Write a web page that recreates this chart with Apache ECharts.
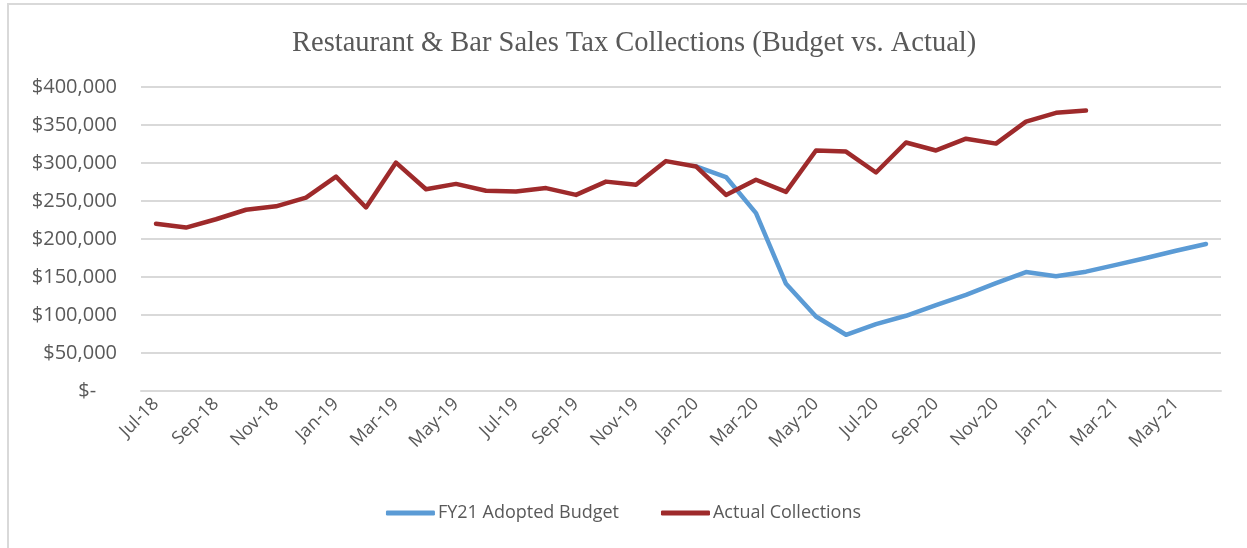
<!DOCTYPE html>
<html>
<head>
<meta charset="utf-8">
<title>Restaurant & Bar Sales Tax Collections</title>
<script src="https://cdn.jsdelivr.net/npm/echarts@6/dist/echarts.min.js"></script>
<style>
  html, body { margin: 0; padding: 0; background: #fff; }
  #main { width: 1247px; height: 548px; }
</style>
</head>
<body>
<div id="main"></div>
<script>
// 月份 Jul-18 ... Jun-21
var months = ['Jul-18', 'Aug-18', 'Sep-18', 'Oct-18', 'Nov-18', 'Dec-18',
    'Jan-19', 'Feb-19', 'Mar-19', 'Apr-19', 'May-19', 'Jun-19',
    'Jul-19', 'Aug-19', 'Sep-19', 'Oct-19', 'Nov-19', 'Dec-19',
    'Jan-20', 'Feb-20', 'Mar-20', 'Apr-20', 'May-20', 'Jun-20',
    'Jul-20', 'Aug-20', 'Sep-20', 'Oct-20', 'Nov-20', 'Dec-20',
    'Jan-21', 'Feb-21', 'Mar-21', 'Apr-21', 'May-21', 'Jun-21'];

// FY21 Adopted Budget (starts Jan-20)
var budget = [null, null, null, null, null, null,
    null, null, null, null, null, null,
    null, null, null, null, null, null,
    295500, 281500, 234000, 141000, 98000, 74000,
    88000, 99000, 113000, 126500, 142000, 156500,
    151000, 157000, 166000, 175000, 184500, 193500];

// Actual Collections (ends Feb-21)
var actual = [220000, 215000, 226000, 238500, 243000, 254500,
    282000, 241500, 300500, 265500, 272500, 263500,
    262500, 267000, 258000, 275500, 271500, 302500,
    295500, 258000, 278000, 262000, 316500, 315000,
    287500, 327000, 316500, 332000, 325500, 354500,
    366000, 369000, null, null, null, null];

var yMin = 0, yMax = 400000, yStep = 50000;

var textColor = '#595959';
var gridColor = '#d9d9d9';
var labelFont = '"Open Sans", sans-serif';

var myChart = echarts.init(document.getElementById('main'));

var option = {
    backgroundColor: '#fff',
    animation: false,
    title: {
        text: 'Restaurant & Bar Sales Tax Collections (Budget vs. Actual)',
        left: 292,
        top: 29,
        padding: 0,
        textStyle: {
            fontFamily: '"Liberation Serif", serif',
            fontWeight: 'normal',
            fontSize: 28.5,
            color: textColor
        }
    },
    // 外边框
    graphic: [{
        type: 'rect',
        shape: { x: 8, y: 4, width: 1400, height: 700 },
        style: { fill: 'none', stroke: gridColor, lineWidth: 2 },
        silent: true
    }],
    legend: {
        bottom: 21,
        left: 'center',
        itemWidth: 49,
        itemHeight: 5,
        itemGap: 42,
        icon: 'roundRect',
        textStyle: {
            fontFamily: labelFont,
            fontSize: 18,
            color: textColor,
            padding: [0, 0, 0, -2]
        },
        data: ['FY21 Adopted Budget', 'Actual Collections']
    },
    grid: {
        left: 141,
        right: 26,
        top: 87,
        bottom: 157,
        containLabel: false
    },
    xAxis: {
        type: 'category',
        data: months,
        boundaryGap: true,
        axisLine: { show: true, lineStyle: { color: gridColor, width: 2 } },
        axisTick: { show: false },
        axisLabel: {
            interval: 1,
            rotate: 45,
            margin: 10,
            fontFamily: labelFont,
            fontSize: 18,
            color: textColor
        }
    },
    yAxis: {
        type: 'value',
        min: yMin,
        max: yMax,
        interval: yStep,
        axisLine: { show: false },
        axisTick: { show: false },
        splitLine: { lineStyle: { color: gridColor, width: 2 } },
        axisLabel: {
            margin: 24,
            fontFamily: labelFont,
            fontSize: 20,
            color: textColor,
            formatter: function (v) {
                if (v === 0) return '$-    ';
                return '$' + v.toLocaleString('en-US');
            }
        }
    },
    series: [
        {
            name: 'FY21 Adopted Budget',
            type: 'line',
            data: budget,
            showSymbol: false,
            symbol: 'none',
            connectNulls: false,
            itemStyle: { color: '#5B9BD5' },
            lineStyle: { color: '#5B9BD5', width: 4.5, cap: 'round', join: 'round' },
            z: 2
        },
        {
            name: 'Actual Collections',
            type: 'line',
            data: actual,
            showSymbol: false,
            symbol: 'none',
            itemStyle: { color: '#9E2A2B' },
            lineStyle: { color: '#9E2A2B', width: 4.5, cap: 'round', join: 'round' },
            z: 3
        }
    ]
};

myChart.setOption(option);
</script>
</body>
</html>
